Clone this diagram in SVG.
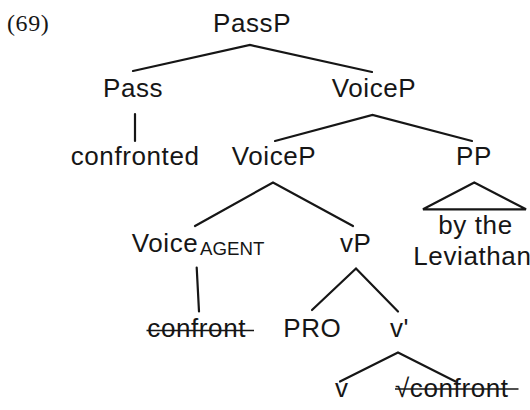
<svg xmlns="http://www.w3.org/2000/svg" width="530" height="410" viewBox="0 0 530 410">
  <style>
    .lbl { font-family: "Liberation Sans", Arial, sans-serif; font-size: 26px; letter-spacing: 0.6px; fill: #161616; }
    .sub { font-family: "Liberation Sans", Arial, sans-serif; font-size: 18.7px; fill: #161616; }
    .num { font-family: "Liberation Serif", "Times New Roman", serif; font-size: 24px; letter-spacing: 0.6px; fill: #161616; }
    .edge { stroke: #161616; stroke-width: 2.2; fill: none; stroke-linecap: round; stroke-linejoin: miter; }
    .strike { stroke: #161616; stroke-width: 1.6; }
  </style>

  <rect width="530" height="410" fill="#ffffff"/>

  <text class="num" x="7" y="31">(69)</text>

  <!-- tree branches -->
  <g id="connectors">
    <polyline class="edge" points="133,71 250,45 372,72"/>
    <line class="edge" x1="135" y1="114" x2="135" y2="141"/>
    <polyline class="edge" points="275,141 372.5,115 472,141"/>
    <polyline class="edge" points="195,226 273,182.5 353,226"/>
    <line class="edge" x1="196.7" y1="267.5" x2="199" y2="311.5"/>
    <polyline class="edge" points="312,310 356,268.5 398,311.5"/>
    <polyline class="edge" points="340,381.5 398,352.5 455.5,381.5"/>
    <!-- triangle over the unanalysed PP -->
    <polygon class="edge" points="474.3,182.5 423,209.3 526,209.3" stroke-width="2.5"/>
  </g>

  <g id="PassP"><text class="lbl" x="213" y="31.5">PassP</text></g>
  <g id="Pass"><text class="lbl" x="103" y="97">Pass</text></g>
  <g id="VoiceP-top"><text class="lbl" x="331.7" y="97">VoiceP</text></g>
  <g id="confronted"><text class="lbl" x="70.7" y="165">confronted</text></g>
  <g id="VoiceP-low"><text class="lbl" x="231.7" y="165">VoiceP</text></g>
  <g id="PP"><text class="lbl" x="456" y="165">PP</text></g>
  <g id="by-the-Leviathan">
    <text class="lbl" x="438.3" y="234">by the</text>
    <text class="lbl" x="413.3" y="265">Leviathan</text>
  </g>
  <g id="Voice-agent">
    <text class="lbl" x="131.7" y="251.5">Voice</text>
    <text class="sub" x="200" y="254.5">AGENT</text>
  </g>
  <g id="vP"><text class="lbl" x="340" y="251.5">vP</text></g>
  <g id="confront-deleted">
    <text class="lbl" x="147.3" y="337">confront</text>
    <line class="strike" x1="146.5" y1="330.5" x2="254" y2="330.5"/>
  </g>
  <g id="PRO"><text class="lbl" x="283.3" y="336.5">PRO</text></g>
  <g id="v-bar"><text class="lbl" x="390" y="336.5">v'</text></g>
  <g id="v"><text class="lbl" x="335" y="396.5">v</text></g>
  <g id="root-deleted">
    <text class="lbl" x="395" y="396.5">√confront</text>
    <line class="strike" x1="395" y1="389" x2="518.5" y2="389"/>
  </g>
</svg>
